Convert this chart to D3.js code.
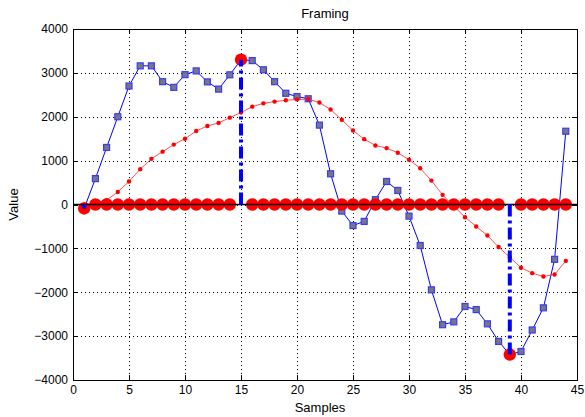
<!DOCTYPE html>
<html>
<head>
<meta charset="utf-8">
<script src="https://cdn.jsdelivr.net/npm/d3@7"></script>
<style>
  body { margin: 0; background: #fff; }
  text { font-family: "Liberation Sans", Arial, sans-serif; fill: #000; }
</style>
</head>
<body>
<div id="chart"></div>
<script>
// sample index (x) and the three plotted series
const samples = [1, 2, 3, 4, 5, 6, 7, 8, 9, 10, 11, 12, 13, 14, 15, 16, 17, 18, 19, 20, 21, 22,
  23, 24, 25, 26, 27, 28, 29, 30, 31, 32, 33, 34, 35, 36, 37, 38, 39, 40, 41, 42, 43, 44];
const signal = [-90, 590, 1300, 2000, 2700, 3160, 3160, 2800, 2670, 2960, 3045, 2795, 2630, 2955,
  3300, 3280, 3070, 2800, 2535, 2460, 2410, 1810, 700, -150, -480, -385, 110, 525, 320, -265,
  -935, -1945, -2740, -2675, -2325, -2395, -2720, -3120, -3420, -3350, -2860, -2355, -1250, 1670];
const smoothed = [0, 30, 100, 285, 525, 805, 1040, 1205, 1365, 1500, 1675, 1790, 1860, 1980,
  2095, 2230, 2305, 2345, 2375, 2395, 2400, 2325, 2165, 1930, 1685, 1490, 1345, 1285, 1180, 1020,
  825, 545, 220, -40, -290, -500, -705, -970, -1200, -1440, -1565, -1640, -1595, -1285];
const framing = [-90, 0, 0, 0, 0, 0, 0, 0, 0, 0, 0, 0, 0, 0, 3300, 0, 0, 0, 0, 0, 0, 0, 0, 0,
  0, 0, 0, 0, 0, 0, 0, 0, 0, 0, 0, 0, 0, 0, -3420, 0, 0, 0, 0, 0];
// frame boundaries (vertical dash-dot stems)
const stemSamples = [1, 15, 39];
const stemValues = [-90, 3300, -3420];

const xTicks = [0, 5, 10, 15, 20, 25, 30, 35, 40, 45];
const yTicks = [-4000, -3000, -2000, -1000, 0, 1000, 2000, 3000, 4000];

const width = 585;
const height = 417;
const m = { left: 73, right: 577, top: 29, bottom: 380 };

const x = d3.scaleLinear().domain([0, 45]).range([m.left, m.right]);
const y = d3.scaleLinear().domain([-4000, 4000]).range([m.bottom, m.top]);

const svg = d3.select("#chart")
  .append("svg")
  .attr("width", width)
  .attr("height", height);

svg.append("rect")
  .attr("width", width)
  .attr("height", height)
  .attr("fill", "#fff");

// dotted grid
const grid = svg.append("g").attr("shape-rendering", "crispEdges");
grid.selectAll(".gx")
  .data(xTicks.slice(1, -1))
  .enter().append("line")
  .attr("x1", d => Math.round(x(d)) + 0.5)
  .attr("x2", d => Math.round(x(d)) + 0.5)
  .attr("y1", m.top).attr("y2", m.bottom)
  .attr("stroke", "#000")
  .attr("stroke-dasharray", "1,3");
grid.selectAll(".gy")
  .data(yTicks.slice(1, -1))
  .enter().append("line")
  .attr("y1", d => Math.round(y(d)) + 0.5)
  .attr("y2", d => Math.round(y(d)) + 0.5)
  .attr("x1", m.left).attr("x2", m.right)
  .attr("stroke", "#000")
  .attr("stroke-dasharray", "1,3");

// axes with inward ticks on all four sides
const fmt = d3.format("d");
const axisB = d3.axisBottom(x).tickValues(xTicks).tickFormat(fmt).tickSizeInner(-5).tickSizeOuter(0).tickPadding(5);
const axisT = d3.axisTop(x).tickValues(xTicks).tickSizeInner(-5).tickSizeOuter(0).tickFormat("");
const axisL = d3.axisLeft(y).tickValues(yTicks).tickFormat(fmt).tickSizeInner(-5).tickSizeOuter(0).tickPadding(5);
const axisR = d3.axisRight(y).tickValues(yTicks).tickSizeInner(-5).tickSizeOuter(0).tickFormat("");

[[axisB, `translate(0,${m.bottom})`], [axisT, `translate(0,${m.top})`],
 [axisL, `translate(${m.left},0)`], [axisR, `translate(${m.right},0)`]].forEach(([ax, tr]) => {
  const g = svg.append("g").attr("transform", tr).call(ax);
  g.select(".domain").remove();
  g.selectAll("line").attr("stroke", "#000").attr("shape-rendering", "crispEdges");
  g.selectAll("text").style("font-size", "12px").style("font-family", "Liberation Sans, Arial, sans-serif");
});

// box
svg.append("rect")
  .attr("x", m.left + 0.5).attr("y", m.top + 0.5)
  .attr("width", m.right - m.left).attr("height", m.bottom - m.top)
  .attr("fill", "none")
  .attr("stroke", "#000")
  .attr("shape-rendering", "crispEdges");

// blue signal
const line = d3.line().x(d => x(d[0])).y(d => y(d[1]));
const sig = samples.map((s, i) => [s, signal[i]]);
svg.append("path")
  .datum(sig)
  .attr("d", line)
  .attr("fill", "none")
  .attr("stroke", "#0000ff")
  .attr("stroke-width", 1);
svg.selectAll(".sq")
  .data(sig)
  .enter().append("rect")
  .attr("x", d => x(d[0]) - 3)
  .attr("y", d => y(d[1]) - 3)
  .attr("width", 6).attr("height", 6)
  .attr("fill", "#777780")
  .attr("stroke", "#3a3aff")
  .attr("stroke-width", 1.2);

// red smoothed curve
const sm = samples.map((s, i) => [s, smoothed[i]]);
svg.append("path")
  .datum(sm)
  .attr("d", line)
  .attr("fill", "none")
  .attr("stroke", "#ff3c3c")
  .attr("stroke-width", 0.9);
svg.selectAll(".dot")
  .data(sm)
  .enter().append("circle")
  .attr("cx", d => x(d[0]))
  .attr("cy", d => y(d[1]))
  .attr("r", 2.2)
  .attr("fill", "#ff0000");

// big red framing markers
svg.selectAll(".fm")
  .data(samples.map((s, i) => [s, framing[i]]))
  .enter().append("circle")
  .attr("cx", d => x(d[0]))
  .attr("cy", d => y(d[1]))
  .attr("r", 6.2)
  .attr("fill", "#ff0000");

// zero line
svg.append("line")
  .attr("x1", x(0)).attr("x2", x(45))
  .attr("y1", y(0)).attr("y2", y(0))
  .attr("stroke", "#000")
  .attr("stroke-width", 1.5);

// dash-dot stems
svg.selectAll(".stem")
  .data(stemSamples)
  .enter().append("line")
  .attr("x1", d => x(d)).attr("x2", d => x(d))
  .attr("y1", y(0))
  .attr("y2", (d, i) => y(stemValues[i]))
  .attr("stroke", "#0000ff")
  .attr("stroke-width", 4)
  .attr("stroke-dasharray", "12,4,3,4");

// labels
svg.append("text")
  .attr("x", (m.left + m.right) / 2).attr("y", 18)
  .attr("text-anchor", "middle")
  .style("font-size", "13px")
  .text("Framing");
svg.append("text")
  .attr("x", 320).attr("y", 412)
  .attr("text-anchor", "middle")
  .style("font-size", "13px")
  .text("Samples");
svg.append("text")
  .attr("transform", `translate(18,${y(0)}) rotate(-90)`)
  .attr("text-anchor", "middle")
  .style("font-size", "13px")
  .text("Value");
</script>
</body>
</html>
